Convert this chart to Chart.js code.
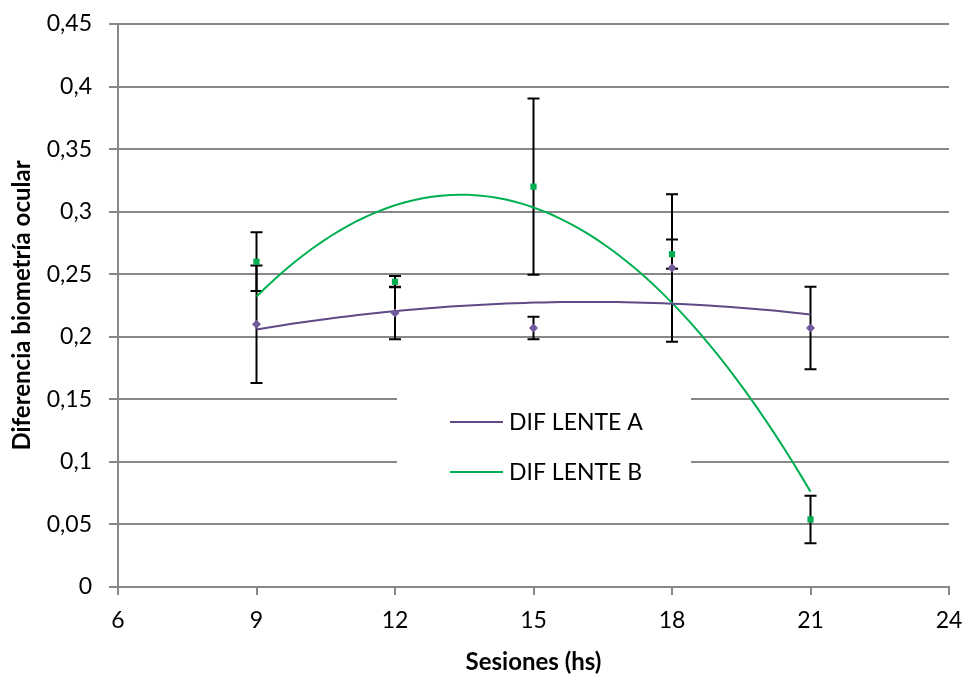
<!DOCTYPE html>
<html>
<head>
<meta charset="utf-8">
<script src="https://cdn.jsdelivr.net/npm/chart.js@4.4.0/dist/chart.umd.min.js"></script>
<style>
  html, body { margin: 0; padding: 0; background: #fff; }
  #wrap { width: 965px; height: 674px; }
</style>
</head>
<body>
<div id="wrap"><canvas id="chart"></canvas></div>
<script>
var sesiones = [9, 12, 15, 18, 21];
var difA = [0.210, 0.219, 0.207, 0.255, 0.207];
var errA = [0.047, 0.021, 0.009, 0.059, 0.033];
var difB = [0.260, 0.244, 0.320, 0.266, 0.054];
var errB = [0.0235, 0.0045, 0.0705, 0.0117, 0.019];
var xTicks = [6, 9, 12, 15, 18, 21, 24];
var yTicks = [0, 0.05, 0.1, 0.15, 0.2, 0.25, 0.3, 0.35, 0.4, 0.45];
var yTickLabels = ['0', '0,05', '0,1', '0,15', '0,2', '0,25', '0,3', '0,35', '0,4', '0,45'];

var FONT = 'Lato';
var purple = '#5f4a86';
var purpleMark = '#6e5b9b';
var green = '#00b050';
var gridCol = '#888888';

// order 2 polynomial least squares, same as the excel trendline
function fit2(xs, ys) {
  var s = [0, 0, 0, 0, 0], t = [0, 0, 0];
  for (var i = 0; i < xs.length; i++) {
    var p = 1;
    for (var k = 0; k < 5; k++) { s[k] += p; if (k < 3) t[k] += p * ys[i]; p *= xs[i]; }
  }
  var m = [[s[0], s[1], s[2], t[0]], [s[1], s[2], s[3], t[1]], [s[2], s[3], s[4], t[2]]];
  for (var c = 0; c < 3; c++) {
    for (var r = c + 1; r < 3; r++) {
      var f = m[r][c] / m[c][c];
      for (var j = c; j < 4; j++) m[r][j] -= f * m[c][j];
    }
  }
  var b = [0, 0, 0];
  for (var r2 = 2; r2 >= 0; r2--) {
    var v = m[r2][3];
    for (var j2 = r2 + 1; j2 < 3; j2++) v -= m[r2][j2] * b[j2];
    b[r2] = v / m[r2][r2];
  }
  return b;
}

function trend(xs, ys) {
  var b = fit2(xs, ys), pts = [];
  for (var x = xs[0]; x <= xs[xs.length - 1] + 1e-9; x += 0.2) {
    pts.push({ x: x, y: b[0] + b[1] * x + b[2] * x * x });
  }
  return pts;
}

function pts(xs, ys) {
  return xs.map(function (x, i) { return { x: x, y: ys[i] }; });
}

var errorBars = {
  id: 'errorBars',
  beforeDatasetsDraw: function (chart) {
    var ctx = chart.ctx, sx = chart.scales.x, sy = chart.scales.y;
    ctx.save();
    ctx.strokeStyle = '#000';
    ctx.lineWidth = 2;
    [[difA, errA], [difB, errB]].forEach(function (s) {
      sesiones.forEach(function (x, i) {
        var px = sx.getPixelForValue(x);
        var top = sy.getPixelForValue(s[0][i] + s[1][i]);
        var bot = sy.getPixelForValue(s[0][i] - s[1][i]);
        ctx.beginPath();
        ctx.moveTo(px, top); ctx.lineTo(px, bot);
        ctx.moveTo(px - 6, top); ctx.lineTo(px + 6, top);
        ctx.moveTo(px - 6, bot); ctx.lineTo(px + 6, bot);
        ctx.stroke();
      });
    });
    ctx.restore();
  }
};

// legend box sits inside the plot, on top of the gridlines
var boxLegend = {
  id: 'boxLegend',
  beforeDatasetsDraw: function (chart) {
    var ctx = chart.ctx;
    ctx.save();
    ctx.fillStyle = '#fff';
    ctx.fillRect(397, 390, 294, 104);
    var items = [{ label: 'DIF LENTE A', color: purple }, { label: 'DIF LENTE B', color: green }];
    ctx.font = '23px ' + FONT;
    ctx.textBaseline = 'middle';
    items.forEach(function (it, i) {
      var y = 422 + i * 50;
      ctx.strokeStyle = it.color;
      ctx.lineWidth = 2;
      ctx.beginPath();
      ctx.moveTo(450, y); ctx.lineTo(503, y);
      ctx.stroke();
      ctx.fillStyle = '#000';
      ctx.fillText(it.label, 509, y + 1);
    });
    ctx.restore();
  }
};

var ctx = document.getElementById('chart').getContext('2d');
new Chart(ctx, {
  type: 'scatter',
  data: {
    datasets: [{
      label: 'DIF LENTE A',
      data: pts(sesiones, difA),
      pointStyle: 'rectRot',
      pointRadius: 4.5,
      backgroundColor: purpleMark,
      borderColor: purpleMark,
      borderWidth: 0,
      order: 0
    }, {
      label: 'DIF LENTE B',
      data: pts(sesiones, difB),
      pointStyle: 'rect',
      pointRadius: 4.4,
      backgroundColor: green,
      borderColor: green,
      borderWidth: 0,
      order: 0
    }, {
      label: 'Polinómica (DIF LENTE A)',
      data: trend(sesiones, difA),
      showLine: true,
      pointRadius: 0,
      borderColor: purple,
      borderWidth: 2,
      tension: 0,
      order: 1
    }, {
      label: 'Polinómica (DIF LENTE B)',
      data: trend(sesiones, difB),
      showLine: true,
      pointRadius: 0,
      borderColor: green,
      borderWidth: 2,
      tension: 0,
      order: 1
    }]
  },
  options: {
    responsive: true,
    maintainAspectRatio: false,
    animation: false,
    layout: { padding: { top: 24, right: 16, left: 0, bottom: 0 } },
    plugins: {
      legend: { display: false },
      tooltip: { enabled: false }
    },
    scales: {
      x: {
        type: 'linear',
        min: 6,
        max: 24,
        afterBuildTicks: function (s) { s.ticks = xTicks.map(function (v) { return { value: v }; }); },
        afterFit: function (s) { s.height = 87; s.paddingLeft = 0; s.paddingRight = 0; },
        grid: { drawOnChartArea: false, drawTicks: true, tickLength: 8, color: gridCol, lineWidth: 2 },
        border: { color: gridCol, width: 2 },
        ticks: {
          color: '#000',
          padding: 12,
          font: { family: FONT, size: 23 },
          callback: function (v) { return String(v); }
        },
        title: {
          display: true,
          text: 'Sesiones (hs)',
          color: '#000',
          font: { family: FONT, size: 24, weight: 'bold', lineHeight: 1 },
          padding: { top: 0, bottom: 0 }
        }
      },
      y: {
        min: 0,
        max: 0.45,
        afterBuildTicks: function (s) { s.ticks = yTicks.map(function (v) { return { value: v }; }); },
        afterFit: function (s) { s.width = 118; s.paddingTop = 0; s.paddingBottom = 0; },
        grid: { color: gridCol, lineWidth: 2, tickLength: 9 },
        border: { color: gridCol, width: 2 },
        ticks: {
          color: '#000',
          padding: 17,
          font: { family: FONT, size: 23 },
          callback: function (v, i) { return yTickLabels[i]; }
        },
        title: {
          display: true,
          text: 'Diferencia biometría ocular',
          color: '#000',
          font: { family: FONT, size: 24, weight: 'bold', lineHeight: 1 },
          padding: { top: 10, bottom: 0 }
        }
      }
    }
  },
  plugins: [errorBars, boxLegend]
});
</script>
</body>
</html>
